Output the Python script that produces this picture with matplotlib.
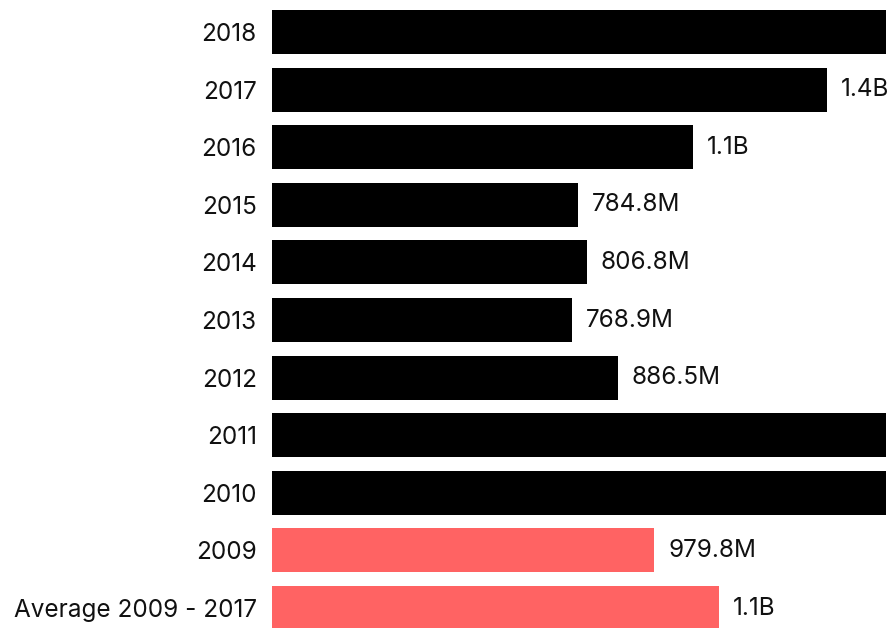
import matplotlib.pyplot as plt

labels = ["2018", "2017", "2016", "2015", "2014", "2013", "2012",
          "2011", "2010", "2009", "Average 2009 - 2017"]
values = [1900, 1423, 1079, 784.8, 806.8, 768.9, 886.5, 1750, 1700, 979.8, 1146]
value_text = ["1.9B", "1.4B", "1.1B", "784.8M", "806.8M", "768.9M", "886.5M",
              "1.8B", "1.7B", "979.8M", "1.1B"]
colors = ["#000000"] * 9 + ["#ff6363"] * 2

plt.rcParams["font.family"] = ["Inter", "DejaVu Sans"]

fig = plt.figure(figsize=(8.9, 6.28), dpi=100)
ax = fig.add_axes([272 / 890, 0, (886 - 272) / 890, 1])

xmax = 1574
y = list(range(len(labels)))
ax.barh(y, values, height=0.765, color=colors)

# value labels only for bars that end inside the plot
for yi, v, t in zip(y, values, value_text):
    if v < xmax:
        ax.text(v + 36, yi, t, va="center", ha="left", fontsize=17.5,
                color="#111111", clip_on=False)

ax.set_xlim(0, xmax)
ax.set_ylim(10.347, -0.556)
ax.set_yticks(y)
ax.set_yticklabels(labels, fontsize=17.5, color="#111111")
ax.tick_params(axis="y", length=0, pad=11)
ax.set_xticks([])
for s in ax.spines.values():
    s.set_visible(False)

fig.savefig("out.png", dpi=100)
